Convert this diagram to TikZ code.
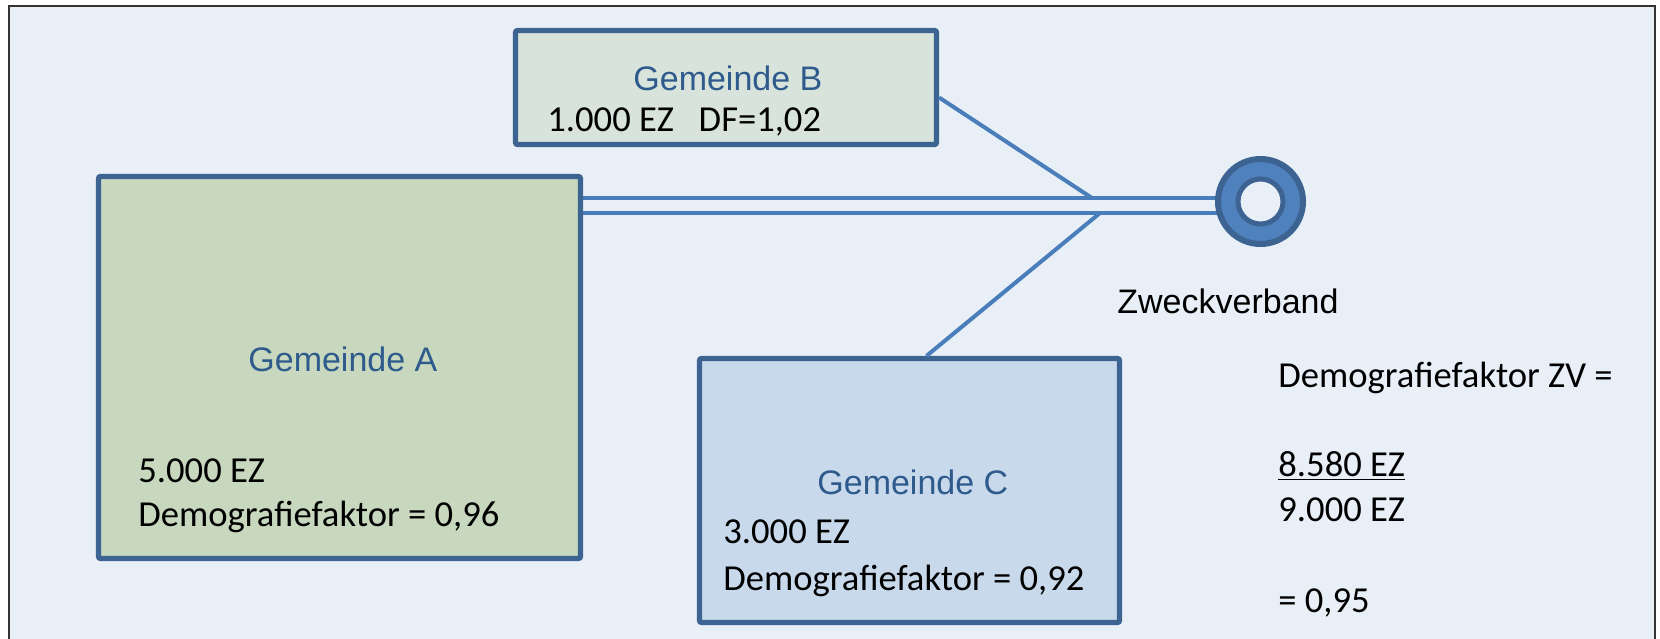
\documentclass[tikz,border=0pt]{standalone}
\usepackage{fontspec}
\setmainfont{Carlito}
\newfontfamily\arialfont{Liberation Sans}
\usetikzlibrary{calc}

\definecolor{zvback}{RGB}{232,239,247}
\definecolor{zvframe}{RGB}{61,99,146}
\definecolor{zvline}{RGB}{74,126,187}
\definecolor{zvdisc}{RGB}{79,129,189}
\definecolor{zvtitle}{RGB}{46,90,140}
\definecolor{fillA}{RGB}{199,216,190}
\definecolor{fillB}{RGB}{216,228,219}
\definecolor{fillC}{RGB}{201,217,236}

\tikzset{
  gemeinde/.style={draw=zvframe, line width=2.6pt, rounded corners=1pt, inner sep=0pt},
  title/.style={font=\arialfont\fontsize{17}{20}\selectfont, text=zvtitle, anchor=base west, inner sep=0pt},
  info/.style={font=\fontsize{18.3}{22}\selectfont, anchor=base west, inner sep=0pt},
  link/.style={draw=zvline, line width=2pt}
}

\begin{document}
\begin{tikzpicture}[x=0.5pt,y=-0.5pt]
   \clip (0,0) rectangle (1660,638);
   \draw[line width=1pt, draw=black!80, fill=zvback] (9,6) rectangle (1655,660);

   % the double line to the Zweckverband
   \coordinate (stub) at (583,205.5);
   \coordinate (hub) at (1232,205.5);
   \draw[zvline, line width=2pt, double=zvback, double distance=5.5pt] (stub) -- (hub);

   \node[gemeinde, fill=fillA, minimum width=241pt, minimum height=191pt] (gemA) at (339.5,367.5) {};
   \node[gemeinde, fill=fillB, minimum width=210.5pt, minimum height=57pt] (gemB) at (726,87.5) {};
   \node[gemeinde, fill=fillC, minimum width=210pt, minimum height=132pt] (gemC) at (909.5,490.5) {};

   \coordinate (jB) at (1092,198);
   \coordinate (jC) at (1100,213);
   \draw[link] ($(gemB.east)+(0,10)$) -- (jB);
   \draw[link] (jC) -- ($(gemC.north)+(17,0)$);

   \node[circle, draw=zvframe, fill=zvdisc, line width=3pt, minimum size=42.5pt, inner sep=0pt] (zv) at (1260.5,201.5) {};
   \node[circle, draw=zvframe, fill=zvback, line width=2.5pt, minimum size=22.5pt, inner sep=0pt] (zvhole) at (zv.center) {};

   \node[title] (tB) at (633,90) {Gemeinde B};
   \node[info] (eB) at (547,131) {1.000 EZ~~~DF=1,02};

   \node[title] (tA) at (248,371) {Gemeinde A};
   \node[info] (eA) at (138,482) {5.000 EZ};
   \node[info] (dA) at (138,526) {Demografiefaktor = 0,96};

   \node[title] (tC) at (817,494) {Gemeinde C};
   \node[info] (eC) at (723,543) {3.000 EZ};
   \node[info] (dC) at (723,590) {Demografiefaktor = 0,92};

   \node[title, text=black] (tZV) at (1117,313) {Zweckverband};
   \node[info] (dZV) at (1278,387) {Demografiefaktor ZV =};
   \node[info] (zaehler) at (1278,476) {\underline{8.580 EZ}};
   \node[info] (nenner) at (1278,521) {9.000 EZ};
   \node[info] (ergebnis) at (1278,612) {= 0,95};
\end{tikzpicture}
\end{document}
